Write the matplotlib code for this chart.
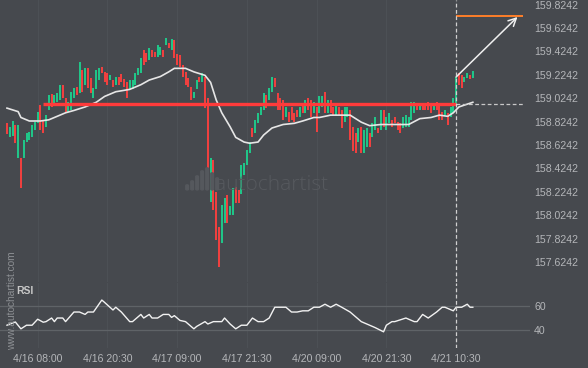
import numpy as np
import matplotlib
matplotlib.use('Agg')
from matplotlib import pyplot as plt
from matplotlib.patches import FancyBboxPatch

# CONSTANTS
BG = '#46494e'
TXT = '#b4b6b9'
UP = '#1fc98a'
DOWN = '#f4403f'

# 30 min candles, body extents (open, close)
opens = [158.81, 158.69, 158.70, 158.80, 158.51, 158.51, 158.51, 158.65, 158.67, 158.69,
         158.75, 158.81, 158.97, 158.84, 158.78, 158.92, 159.06, 158.98, 158.99, 159.01,
         159.14, 159.03, 158.91, 158.92, 159.03, 159.12, 159.07, 159.27, 159.14, 159.28,
         159.20, 159.03, 159.10, 159.18, 159.29, 159.25, 159.24, 159.18, 159.18, 159.14,
         159.21, 159.23, 159.19, 159.16, 159.10, 159.10, 159.14, 159.22, 159.24, 159.44,
         159.41, 159.35, 159.44, 159.42, 159.38, 159.39, 159.44, 159.48, 159.50, 159.44,
         159.52, 159.40, 159.39, 159.31, 159.25, 159.20, 159.12, 159.03, 159.10, 159.21,
         159.16, 159.21, 159.03, 158.14, 158.50, 158.22, 157.92, 157.79, 157.96, 158.20,
         158.03, 158.03, 158.27, 158.24, 158.21, 158.37, 158.45, 158.56, 158.77, 158.73,
         158.81, 158.88, 158.92, 159.05, 159.01, 159.08, 159.20, 159.07, 159.03, 159.01,
         158.86, 158.91, 158.95, 158.90, 158.92, 158.86, 158.98, 158.90, 159.03, 159.01,
         158.90, 158.95, 158.90, 158.95, 159.08, 158.90, 159.01, 158.95, 158.88, 158.95,
         158.92, 158.82, 158.86, 158.92, 158.78, 158.73, 158.65, 158.78, 158.56, 158.61,
         158.73, 158.69, 158.75, 158.77, 158.75, 158.92, 158.75, 158.81, 158.84, 158.86,
         158.82, 158.81, 158.77, 158.78, 158.78, 158.84, 158.90, 158.98, 158.92, 158.98,
         158.98, 158.99, 158.98, 158.92, 158.99, 158.97, 158.91, 158.88, 158.90, 158.86,
         158.90, 158.97, 159.24, 159.22, 159.16, 159.20, 159.22, 159.20]
closes = [158.72, 158.78, 158.83, 158.64, 158.80, 158.26, 158.67, 158.73, 158.74, 158.80,
          158.82, 158.91, 158.75, 158.73, 158.88, 159.05, 158.95, 159.05, 159.07, 159.14,
          159.03, 158.90, 158.99, 159.08, 159.11, 159.05, 159.33, 159.08, 159.28, 159.11,
          159.07, 159.11, 159.27, 159.28, 159.24, 159.16, 159.14, 159.22, 159.12, 159.21,
          159.14, 159.16, 159.12, 159.03, 159.18, 159.18, 159.24, 159.28, 159.37, 159.31,
          159.33, 159.45, 159.38, 159.38, 159.48, 159.46, 159.38, 159.54, 159.45, 159.53,
          159.37, 159.31, 159.29, 159.21, 159.14, 159.12, 159.01, 159.08, 159.18, 159.16,
          159.24, 158.94, 158.31, 158.51, 158.07, 157.81, 157.58, 158.11, 158.17, 157.96,
          158.10, 158.26, 158.13, 158.13, 158.45, 158.47, 158.58, 158.65, 158.69, 158.84,
          158.90, 158.95, 159.07, 158.94, 159.11, 159.21, 159.12, 158.92, 158.92, 158.84,
          158.95, 158.82, 158.84, 158.82, 158.86, 158.95, 158.90, 159.01, 158.92, 158.86,
          158.99, 158.74, 159.04, 159.04, 158.90, 159.01, 158.90, 158.88, 158.97, 158.88,
          158.77, 158.95, 158.95, 158.67, 158.57, 158.56, 158.77, 158.56, 158.75, 158.77,
          158.61, 158.81, 158.86, 158.73, 158.92, 158.78, 158.86, 158.90, 158.78, 158.81,
          158.75, 158.73, 158.86, 158.88, 158.86, 158.99, 158.99, 158.92, 158.98, 158.92,
          158.92, 158.92, 158.90, 158.98, 158.92, 158.84, 158.84, 158.92, 158.80, 158.95,
          159.03, 159.21, 159.14, 159.11, 159.21, 159.24, 159.19, 159.26]

# moving average, read at sample candles
ma_idx = [0, 4, 5, 8, 12, 15, 17, 21, 24, 28, 32, 35, 39, 44, 48, 51, 55, 58, 60, 64,
          67, 71, 73, 75, 77, 80, 82, 85, 87, 90, 92, 95, 99, 103, 106, 110, 112, 116,
          123, 127, 130, 134, 137, 144, 148, 152, 155, 158, 160, 162, 167]
ma_val = [158.94, 158.91, 158.86, 158.83, 158.83, 158.84, 158.86, 158.90, 158.92, 158.95,
          158.99, 159.04, 159.08, 159.10, 159.14, 159.18, 159.21, 159.25, 159.28, 159.28,
          159.25, 159.22, 159.16, 159.01, 158.90, 158.78, 158.69, 158.65, 158.64, 158.65,
          158.71, 158.77, 158.80, 158.81, 158.83, 158.86, 158.86, 158.88, 158.88, 158.82,
          158.79, 158.80, 158.80, 158.80, 158.85, 158.86, 158.88, 158.87, 158.90, 158.95,
          158.99]

# RSI, read at sample candles
rsi_idx = [0, 3, 5, 7, 9, 11, 13, 14, 16, 17, 18, 20, 21, 24, 26, 28, 29, 31, 34, 35,
           38, 39, 41, 44, 45, 48, 49, 51, 52, 54, 56, 58, 59, 60, 62, 64, 67, 68, 71, 72,
           74, 77, 78, 80, 82, 84, 86, 87, 88, 90, 92, 94, 96, 100, 102, 104, 106, 108, 110, 112,
           114, 116, 118, 120, 123, 125, 127, 130, 132, 135, 136, 138, 139, 143, 146, 147, 149, 151, 154, 156,
           157, 160, 161, 163, 165, 166, 167]
rsi_val = [44, 46.7, 41, 44, 44, 49, 46.5, 47, 50, 47, 50, 50, 47, 55, 55, 53, 55, 55, 65, 63,
           56.7, 59, 55, 47, 47, 53, 50, 53, 50, 50, 53, 53, 50.5, 52, 48, 47, 41, 43, 47, 45,
           47, 47, 50, 45, 41, 44, 44, 47, 50, 47, 47, 50, 59, 59, 55, 55, 56, 56, 59, 59,
           61.5, 59, 61.5, 59, 55, 51, 47, 44, 42, 38.5, 44, 47, 47, 50, 47, 47, 53, 50, 55, 59,
           59, 56, 59, 59, 61.5, 59, 59]

level = 158.974          # broken resistance
target = 159.727         # forecast level
signal_idx = 161
level_start = 13
target_end = 185
arrow_start = 159.206
arrow_end_idx = 183
arrow_end = 159.719

time_idx = [11, 36, 61, 86, 111, 136, 161]
time_labels = ['4/16 08:00', '4/16 20:30', '4/17 09:00', '4/17 21:30',
               '4/20 09:00', '4/20 21:30', '4/21 10:30']
price_ticks = [157.6242, 157.8242, 158.0242, 158.2242, 158.4242, 158.6242,
               158.8242, 159.0242, 159.2242, 159.4242, 159.6242, 159.8242]

plt.rcParams['font.family'] = ['Liberation Sans', 'DejaVu Sans']

fig = plt.figure(figsize=(5.88, 3.68), dpi=100, facecolor=BG)
ax = fig.add_axes([0, 0.2337, 0.9014, 0.7663], facecolor=BG)
ax2 = fig.add_axes([0, 0.0543, 0.9014, 0.1767], facecolor=BG, sharex=ax)

x = np.arange(len(opens))
o = np.array(opens)
c = np.array(closes)
cols = np.where(c >= o, UP, DOWN)
ax.vlines(x, np.minimum(o, c), np.maximum(o, c), colors=cols, linewidth=1.4, zorder=3)

ax.plot(ma_idx, ma_val, color='#e6e6e6', linewidth=1.2, zorder=4)

ax.hlines(level, level_start, signal_idx, color='#ff3b3b', linewidth=2.4, zorder=5)
ax.hlines(level, signal_idx, target_end, color='#c8c8c8', linewidth=0.9,
          linestyles=(0, (3, 2)), zorder=5)
ax.hlines(target, signal_idx, target_end, color='#ff7f2a', linewidth=1.4, zorder=5)
ax.annotate('', xy=(arrow_end_idx, arrow_end), xytext=(signal_idx, arrow_start),
            arrowprops=dict(arrowstyle='->', color='#f0f0f0', lw=1.1,
                            mutation_scale=14, shrinkA=0, shrinkB=0), zorder=6)

for a in (ax, ax2):
    a.axvline(signal_idx, color='#d0d0d0', linewidth=0.9, linestyle=(0, (3, 2)), zorder=6)
    for t in time_idx:
        a.axvline(t, color='#4c5055', linewidth=0.8, zorder=0)
    for s in a.spines.values():
        s.set_visible(False)

ax.set_xlim(-2.5, 187.5)
ax.set_ylim(157.454, 159.864)
ax.yaxis.tick_right()
ax.set_yticks(price_ticks)
ax.set_yticklabels(['%.4f' % p for p in price_ticks])
ax.tick_params(axis='y', length=0, pad=3, labelsize=7.6, labelcolor=TXT)
ax.tick_params(axis='x', length=0, labelbottom=False)

# RSI panel
ax2.plot(rsi_idx, rsi_val, color='#f2f2f2', linewidth=1.0, zorder=4)
ax2.axhline(60, color='#5f6367', linewidth=0.9, zorder=1)
ax2.axhline(40, color='#5f6367', linewidth=0.9, zorder=1)
ax2.set_ylim(25, 79.2)
ax2.yaxis.tick_right()
ax2.set_yticks([40, 60])
ax2.set_yticklabels(['40', '60'])
ax2.tick_params(axis='y', length=0, pad=3, labelsize=7.6, labelcolor=TXT)
ax2.set_xticks(time_idx)
ax2.set_xticklabels(time_labels)
ax2.tick_params(axis='x', length=0, pad=4, labelsize=7.6, labelcolor=TXT)
ax2.text(0.03, 0.87, 'RSI', transform=ax2.transAxes, color='#c8c8c8',
         fontsize=7.5, fontweight='bold', va='center', ha='left')

# watermarks
fig.text(0.366, 0.497, 'autochartist', color='#56595e', fontsize=15,
         family=['Open Sans', 'DejaVu Sans'], fontweight='light', va='center', ha='left')
icon_h = [5, 9, 14, 19, 22, 17, 12]
for k, h in enumerate(icon_h):
    fig.patches.append(FancyBboxPatch((0.316 + k * 0.0085, 0.484), 0.0045, h / 368.,
                                      boxstyle='round,pad=0,rounding_size=0.002',
                                      transform=fig.transFigure, color='#55585d',
                                      zorder=1))
fig.text(0.021, 0.05, 'www.autochartist.com', color='#8c8f93', fontsize=7.3,
         rotation=90, va='bottom', ha='center')

plt.savefig('out.png', dpi=100, facecolor=BG)
